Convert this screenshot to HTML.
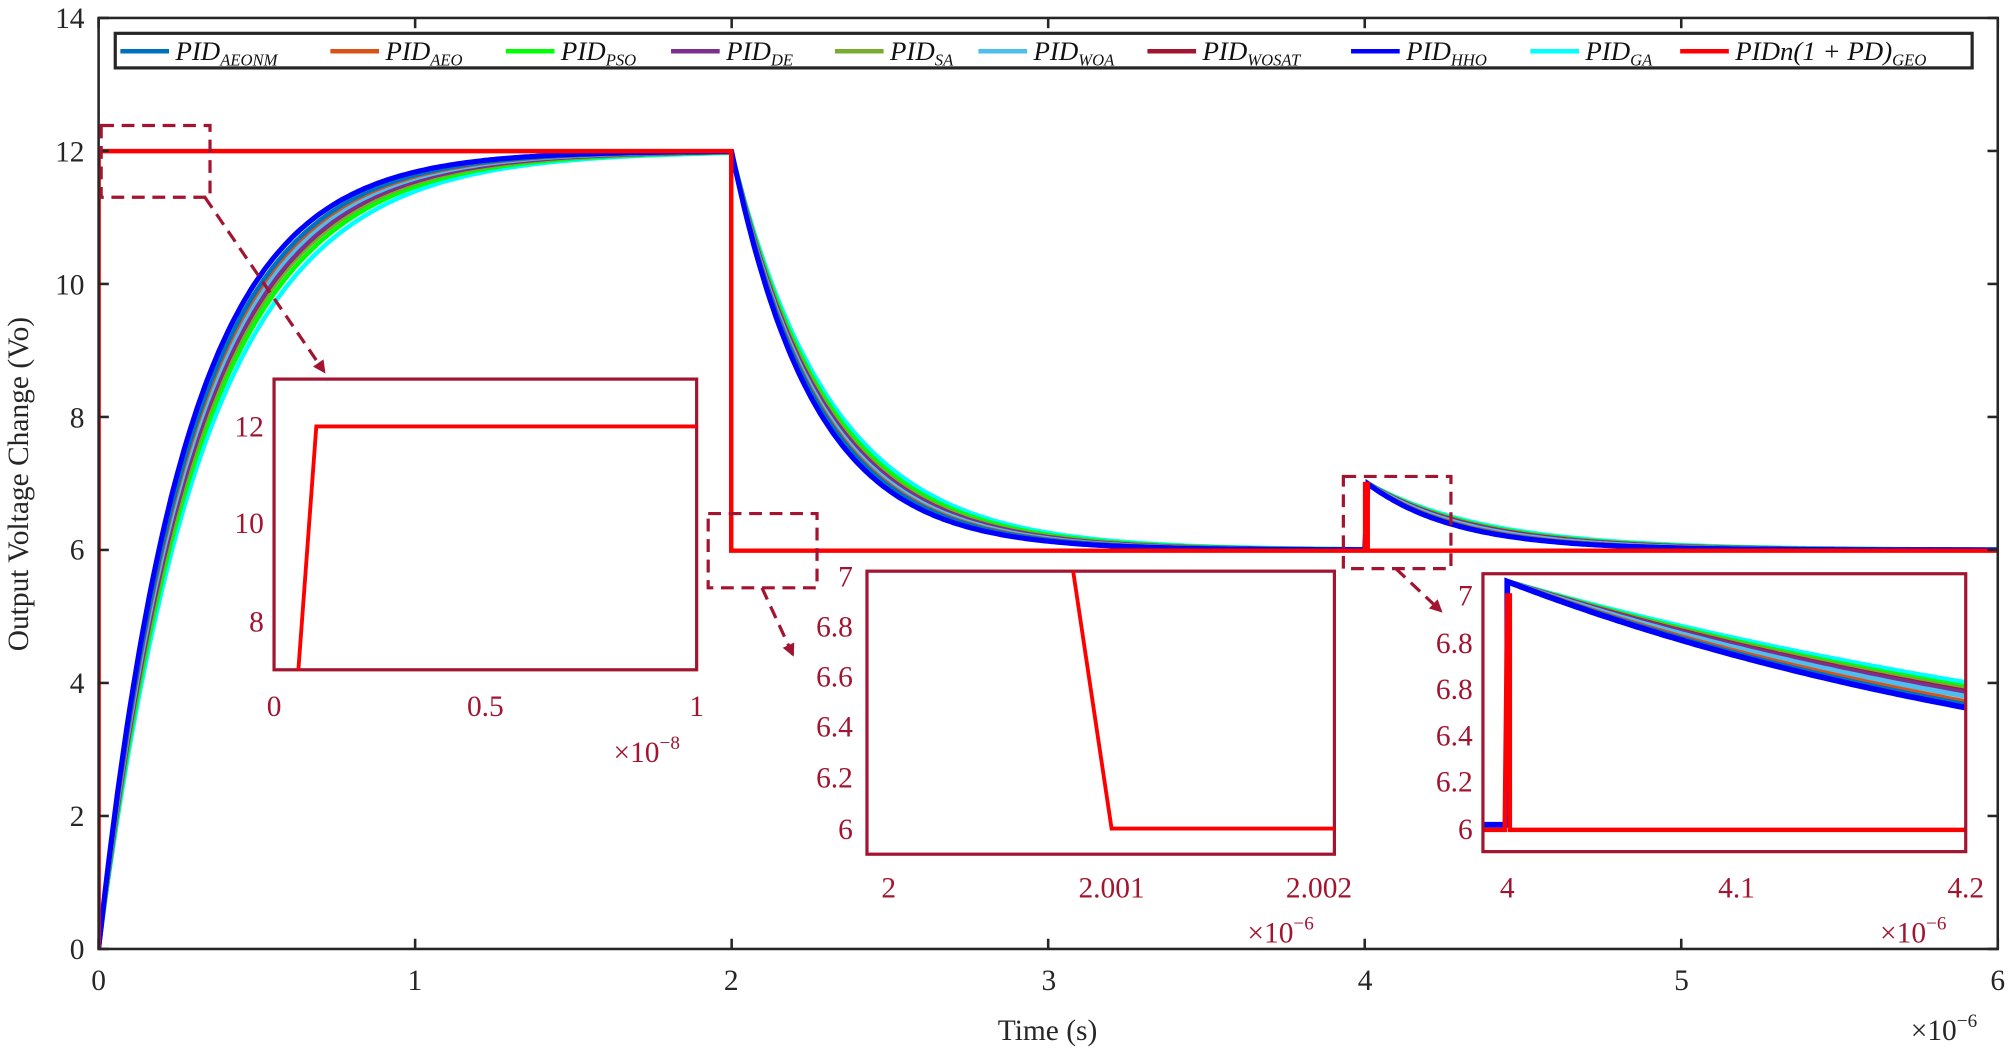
<!DOCTYPE html>
<html><head><meta charset="utf-8"><style>
html,body{margin:0;padding:0;background:#fff}
svg{display:block}
text{font-family:"Liberation Serif",serif}
.t{font-size:23px;fill:#262626}
.r{font-size:23px;fill:#A2142F}
.lg{font-size:21px;font-style:italic;fill:#111}
.sb{font-size:13px;font-style:italic}
</style></head><body>
<svg id="s" width="2008" height="1054" viewBox="0 0 1568 823" xmlns="http://www.w3.org/2000/svg">
<rect width="1568" height="823" fill="#fff"/>
<defs>
<clipPath id="cm"><rect x="77" y="14" width="1483" height="727"/></clipPath>
<clipPath id="c1"><rect x="214" y="296" width="330" height="227"/></clipPath>
<clipPath id="c2"><rect x="677" y="446" width="365" height="221"/></clipPath>
<clipPath id="c3"><rect x="1158" y="448" width="377" height="217"/></clipPath>
<marker id="ar" markerWidth="10" markerHeight="10" refX="8" refY="5" orient="auto" markerUnits="userSpaceOnUse"><path d="M0,0 L10,5 L0,10 z" fill="#A2142F"/></marker>
</defs>
<g id="main" clip-path="url(#cm)"></g>
<g id="in3" clip-path="url(#c3)"></g>
<rect x="77" y="14" width="1483" height="727" fill="none" stroke="#262626" stroke-width="2"/>
<g id="ticks" stroke="#262626" stroke-width="2"></g>
<g class="t" text-anchor="end">
<text x="66" y="749">0</text><text x="66" y="541">4</text><text x="66" y="645">2</text><text x="66" y="437">6</text><text x="66" y="334">8</text><text x="66" y="230">10</text><text x="66" y="126">12</text><text x="66" y="22">14</text>
</g>
<g class="t" text-anchor="middle">
<text x="77" y="773">0</text><text x="324" y="773">1</text><text x="571" y="773">2</text><text x="819" y="773">3</text><text x="1066" y="773">4</text><text x="1313" y="773">5</text><text x="1560" y="773">6</text>
<text x="818" y="812">Time (s)</text>
<text x="1518" y="812">×10<tspan font-size="15" dy="-10">−6</tspan></text>
<text transform="translate(22,378) rotate(-90)">Output Voltage Change (Vo)</text>
</g>
<rect x="90" y="26" width="1450" height="27" fill="#fff" stroke="#262626" stroke-width="2.5"/>
<g id="leg"></g>
<g fill="none" stroke="#A2142F" stroke-width="2.5" stroke-dasharray="10,6">
<rect x="79" y="98" width="85" height="56"/>
<rect x="553" y="401" width="85" height="58"/>
<rect x="1049" y="372" width="84" height="72"/>
<line x1="160" y1="154" x2="253" y2="290" marker-end="url(#ar)"/>
<line x1="595" y1="459" x2="619" y2="511" marker-end="url(#ar)"/>
<line x1="1090" y1="444" x2="1125" y2="477" marker-end="url(#ar)"/>
</g>
<rect x="214" y="296" width="330" height="227" fill="#fff" stroke="#A2142F" stroke-width="2.5"/>
<polyline clip-path="url(#c1)" points="233,523 247,333 544,333" fill="none" stroke="#f00" stroke-width="3"/>
<g class="r" text-anchor="end"><text x="206" y="341">12</text><text x="206" y="416">10</text><text x="206" y="493">8</text></g>
<g class="r" text-anchor="middle"><text x="214" y="559">0</text><text x="379" y="559">0.5</text><text x="544" y="559">1</text>
<text x="505" y="595">×10<tspan font-size="15" dy="-10">−8</tspan></text></g>
<rect x="677" y="446" width="365" height="221" fill="#fff" stroke="#A2142F" stroke-width="2.5"/>
<polyline clip-path="url(#c2)" points="838,446 868,647 1042,647" fill="none" stroke="#f00" stroke-width="3"/>
<g class="r" text-anchor="end"><text x="666" y="458">7</text><text x="666" y="497">6.8</text><text x="666" y="536">6.6</text><text x="666" y="575">6.4</text><text x="666" y="615">6.2</text><text x="666" y="655">6</text></g>
<g class="r" text-anchor="middle"><text x="694" y="701">2</text><text x="868" y="701">2.001</text><text x="1030" y="701">2.002</text>
<text x="1000" y="736">×10<tspan font-size="15" dy="-10">−6</tspan></text></g>
<rect x="1158" y="448" width="377" height="217" fill="none" stroke="#A2142F" stroke-width="2.5"/>
<g class="r" text-anchor="end"><text x="1150" y="473">7</text><text x="1150" y="510">6.8</text><text x="1150" y="546">6.8</text><text x="1150" y="582">6.4</text><text x="1150" y="618">6.2</text><text x="1150" y="655">6</text></g>
<g class="r" text-anchor="middle"><text x="1177" y="701">4</text><text x="1356" y="701">4.1</text><text x="1535" y="701">4.2</text>
<text x="1494" y="736">×10<tspan font-size="15" dy="-10">−6</tspan></text></g>
</svg>
<script>
var NS="http://www.w3.org/2000/svg";
function el(p,t,a){var e=document.createElementNS(NS,t);for(var k in a)e.setAttribute(k,a[k]);p.appendChild(e);return e;}
var S=[
 ["#00FFFF",0.335,0.38],["#00FF00",0.322,0.36],["#77AC30",0.312,0.35],["#A2142F",0.306,0.34],["#7E2F8E",0.305,0.335],
 ["#4DBEEE",0.297,0.32],["#D95319",0.29,0.30],["#0072BD",0.286,0.29],["#0000FF",0.275,0.28]];
var X=function(t){return 77+t*247.17}, Y=function(v){return 741-v*51.93};
var main=document.getElementById("main");
S.forEach(function(s,i){
 var d="",tau=s[1],t2=s[2];
 for(var t=0;t<=6.0001;t+=0.01){
  var v;
  if(t<=2) v=12*(1-Math.exp(-t/tau));
  else if(t<4) {var v2=12*(1-Math.exp(-2/tau)); v=6+(v2-6)*Math.exp(-(t-2)/(tau*0.95));}
  else v=6+1.03*Math.exp(-(t-4)/t2);
  d+=(d?"L":"M")+X(t).toFixed(1)+","+Y(v).toFixed(1);
 }
 el(main,"path",{d:d,fill:"none",stroke:s[0],"stroke-width":i==8?4:3.5});
});
el(main,"polyline",{points:"77,741 77,118 571,118 571,430 1066,430 1066,378 1068,378 1068,430 1560,430",fill:"none",stroke:"#f00","stroke-width":3.5});
var in3=document.getElementById("in3");
var X3=function(t){return 1177+(t-4)*1790}, Y3=function(v){return 647-(v-6)*182};
S.forEach(function(s,i){
 var d="M1158,644L1177,644";
 for(var t=4.0;t<=4.2101;t+=0.002){var v=6+1.06*Math.exp(-(t-4)/s[2]);d+="L"+X3(t).toFixed(1)+","+Y3(v).toFixed(1);}
 el(in3,"path",{d:d,fill:"none",stroke:s[0],"stroke-width":i==8?4.5:4});
});
el(in3,"polyline",{points:"1158,648 1175,648 1177,465 1179,465 1179,648 1540,648",fill:"none",stroke:"#f00","stroke-width":3.5});
var tk=document.getElementById("ticks");
[0,1,2,3,4,5,6].forEach(function(t){var x=X(t);el(tk,"line",{x1:x,y1:741,x2:x,y2:733});el(tk,"line",{x1:x,y1:14,x2:x,y2:22});});
[0,2,4,6,8,10,12,14].forEach(function(v){var y=Y(v);el(tk,"line",{x1:77,y1:y,x2:85,y2:y});el(tk,"line",{x1:1560,y1:y,x2:1552,y2:y});});
var lg=document.getElementById("leg");
var L=[["#0072BD",94,"AEONM"],["#D95319",258,"AEO"],["#00FF00",395,"PSO"],["#7E2F8E",524,"DE"],["#77AC30",652,"SA"],["#4DBEEE",764,"WOA"],["#A2142F",896,"WOSAT"],["#0000FF",1055,"HHO"],["#00FFFF",1195,"GA"],["#FF0000",1312,"GEO"]];
L.forEach(function(l,i){
 el(lg,"line",{x1:l[1],y1:40,x2:l[1]+38,y2:40,stroke:l[0],"stroke-width":3.5});
 var t=el(lg,"text",{x:l[1]+43,y:47,"class":"lg"});
 t.textContent=i==9?"PIDn(1 + PD)":"PID";
 var s=el(t,"tspan",{"class":"sb",dy:"4"});s.textContent=l[2];
});
</script>
</body></html>
